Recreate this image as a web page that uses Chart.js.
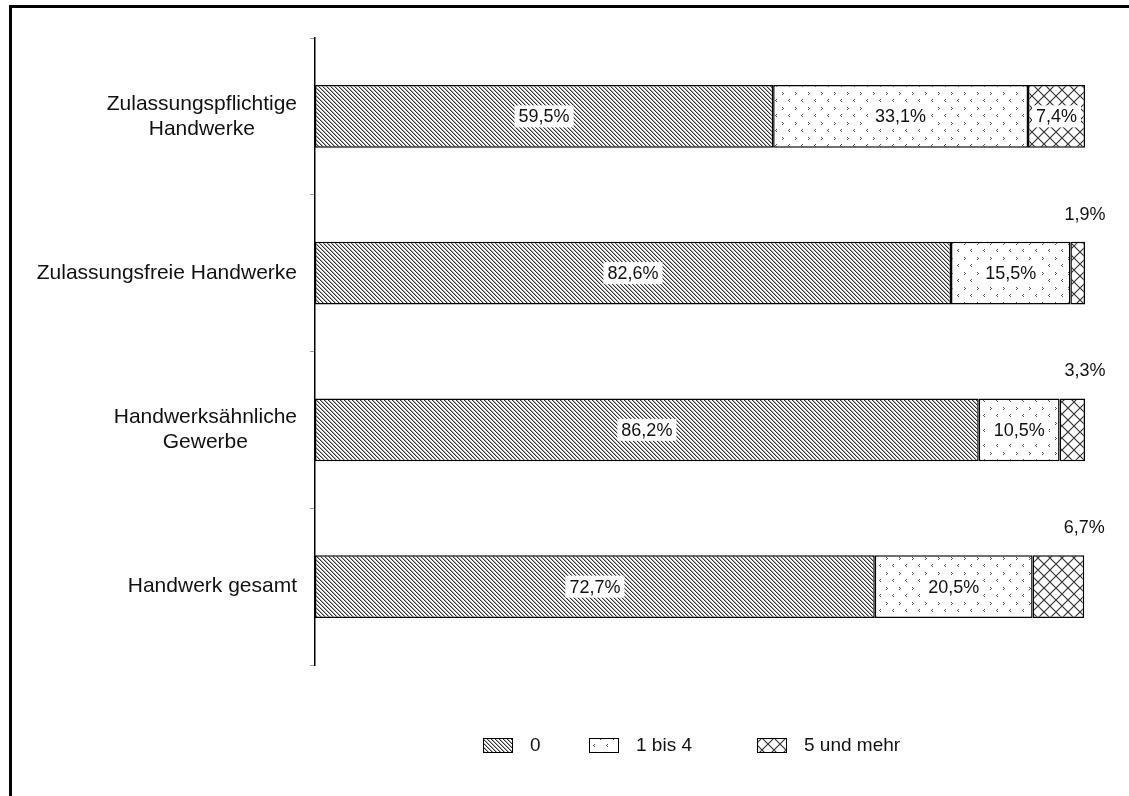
<!DOCTYPE html>
<html><head><meta charset="utf-8">
<script src="https://cdn.jsdelivr.net/npm/chart.js@4.4.1/dist/chart.umd.min.js"></script>
<style>html,body{margin:0;padding:0;background:#fff}#wrap{width:1129px;height:796px;position:relative}</style>
</head><body><div id="wrap"><canvas id="c" width="1129" height="796"></canvas></div>
<script>
const categories = [['Zulassungspflichtige', 'Handwerke'], 'Zulassungsfreie Handwerke', ['Handwerksähnliche', 'Gewerbe'], 'Handwerk gesamt'];
const seriesNames = ['0', '1 bis 4', '5 und mehr'];
const values0 = [59.5, 82.6, 86.2, 72.7];
const values1to4 = [33.1, 15.5, 10.5, 20.5];
const values5plus = [7.4, 1.9, 3.3, 6.7];

const FONT = '"Liberation Sans", Arial, sans-serif';

function makeTile(w, h, draw) {
  const c = document.createElement('canvas'); c.width = w; c.height = h;
  const g = c.getContext('2d');
  g.fillStyle = '#fff'; g.fillRect(0, 0, w, h);
  draw(g);
  return document.getElementById('c').getContext('2d').createPattern(c, 'repeat');
}
const patStripes = makeTile(4, 4, g => {
  for (let i = 0; i < 4; i++) {
    g.fillStyle = '#333'; g.fillRect(i, i, 1, 1);
    g.fillStyle = '#aaa'; g.fillRect((i + 1) % 4, i, 1, 1);
  }
});
function gt(g, x, y) { // '>'
  g.fillRect(x, y, 1, 1); g.fillRect(x + 1, y + 1, 1, 1); g.fillRect(x, y + 2, 1, 1);
}
function lt(g, x, y) { // '<'
  g.fillRect(x + 1, y, 1, 1); g.fillRect(x, y + 1, 1, 1); g.fillRect(x + 1, y + 2, 1, 1);
}
const patDots = makeTile(13, 15, g => {
  g.fillStyle = '#555';
  gt(g, 2, 2);
  lt(g, 8, 9);
});
const patCross = makeTile(12, 12, g => {
  g.strokeStyle = '#333'; g.lineWidth = 1.2;
  g.beginPath();
  g.moveTo(0, 0); g.lineTo(12, 12);
  g.moveTo(12, 0); g.lineTo(0, 12);
  g.stroke();
});
const patterns = [patStripes, patDots, patCross];

const framePlugin = {
  id: 'frame',
  beforeDraw(chart) {
    const ctx = chart.ctx;
    ctx.save();
    ctx.fillStyle = '#fff'; ctx.fillRect(0, 0, chart.width, chart.height);
    ctx.fillStyle = '#000';
    ctx.fillRect(9, 5, chart.width - 9, 3);
    ctx.fillRect(9, 5, 3, chart.height - 5);
    ctx.restore();
  }
};

const catLabelPlugin = {
  id: 'catLabels',
  afterDraw(chart) {
    const ctx = chart.ctx, ys = chart.scales.y;
    ctx.save();
    ctx.font = '21px ' + FONT;
    ctx.fillStyle = '#111';
    ctx.textAlign = 'center'; ctx.textBaseline = 'middle';
    const rightEdge = ys.right - 18, lh = 25;
    chart.data.labels.forEach((lab, i) => {
      const lines = Array.isArray(lab) ? lab : [lab];
      const widest = Math.max(...lines.map(l => ctx.measureText(l).width));
      const cx = rightEdge - widest / 2;
      const cy = ys.getPixelForValue(i);
      lines.forEach((l, k) => ctx.fillText(l, cx, cy + (k - (lines.length - 1) / 2) * lh));
    });
    ctx.restore();
  }
};

const valueLabelPlugin = {
  id: 'valueLabels',
  afterDatasetsDraw(chart) {
    const ctx = chart.ctx;
    ctx.save();
    ctx.font = '18px ' + FONT;
    ctx.textAlign = 'center'; ctx.textBaseline = 'middle';
    chart.data.datasets.forEach((ds, di) => {
      const meta = chart.getDatasetMeta(di);
      meta.data.forEach((bar, i) => {
        const v = ds.data[i];
        const p = bar.getProps(['x', 'base', 'y', 'height'], true);
        const txt = v.toFixed(1).replace('.', ',') + '%';
        const w = ctx.measureText(txt).width;
        if (v < 7) {
          const tx = Math.max(p.x, p.base), ty = p.y - p.height / 2 - 27;
          ctx.fillStyle = '#111';
          ctx.fillText(txt, tx, ty);
        } else {
          const tx = (p.x + p.base) / 2, ty = p.y;
          ctx.fillStyle = '#fff';
          ctx.fillRect(tx - w / 2 - 4, ty - 11, w + 8, 22);
          ctx.fillStyle = '#111';
          ctx.fillText(txt, tx, ty + 1);
        }
      });
    });
    ctx.restore();
  }
};

const legendPlugin = {
  id: 'customLegend',
  afterDraw(chart) {
    const ctx = chart.ctx;
    const xs = [483, 589, 757];
    ctx.save();
    ctx.font = '19px ' + FONT;
    ctx.textAlign = 'left'; ctx.textBaseline = 'middle';
    chart.data.datasets.forEach((ds, i) => {
      const x = xs[i], y = 738;
      ctx.fillStyle = ds.backgroundColor;
      ctx.fillRect(x, y, 30, 15);
      ctx.strokeStyle = '#000'; ctx.lineWidth = 1;
      ctx.strokeRect(x + 0.5, y + 0.5, 29, 14);
      ctx.fillStyle = '#111';
      ctx.fillText(ds.label, x + 47, y + 8);
    });
    ctx.restore();
  }
};

const seriesValues = [values0, values1to4, values5plus];
new Chart(document.getElementById('c'), {
  type: 'bar',
  data: {
    labels: categories,
    datasets: seriesNames.map((n, i) => ({
      label: n,
      data: seriesValues[i],
      backgroundColor: patterns[i],
      borderColor: '#000',
      borderWidth: 1.5,
      borderSkipped: false,
      barPercentage: 0.4,
      categoryPercentage: 1
    }))
  },
  options: {
    indexAxis: 'y',
    responsive: false,
    animation: false,
    devicePixelRatio: 1,
    layout: { padding: { top: 38, right: 44, left: 0, bottom: 0 } },
    plugins: { legend: { display: false }, tooltip: { enabled: false }, title: { display: false } },
    scales: {
      x: {
        stacked: true, min: 0, max: 100,
        ticks: { display: false }, grid: { display: false }, border: { display: false },
        afterFit: s => { s.height = 131; }
      },
      y: {
        stacked: true,
        ticks: { display: false },
        grid: { drawOnChartArea: false, drawTicks: true, tickLength: 5, color: '#999', offset: true },
        border: { color: '#000', width: 1.5 },
        afterFit: s => { s.width = 315; }
      }
    }
  },
  plugins: [framePlugin, catLabelPlugin, valueLabelPlugin, legendPlugin]
});
</script></body></html>
